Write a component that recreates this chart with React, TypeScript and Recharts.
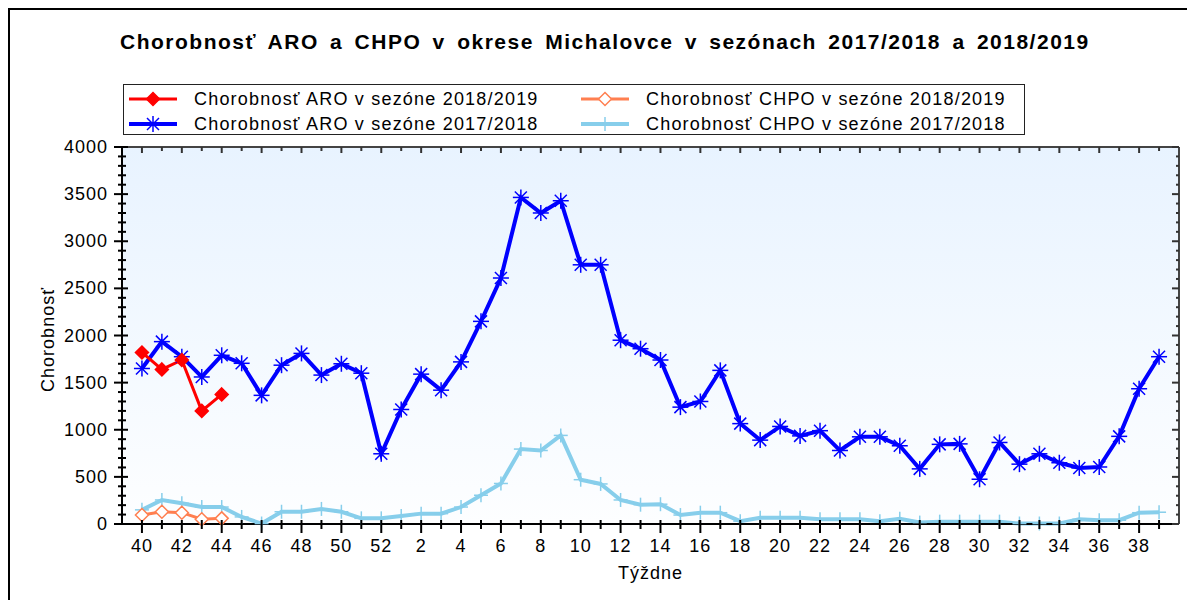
import React from "react";
import { LineChart, Line, XAxis, YAxis, CartesianGrid, Legend, Label } from "recharts";

// calendar weeks of the season, 40..52 then 1..39
const weeks = [
  40, 41, 42, 43, 44, 45, 46, 47, 48, 49, 50, 51, 52,
  1, 2, 3, 4, 5, 6, 7, 8, 9, 10, 11, 12, 13, 14, 15, 16, 17, 18, 19, 20,
  21, 22, 23, 24, 25, 26, 27, 28, 29, 30, 31, 32, 33, 34, 35, 36, 37, 38, 39,
];

// season 2018/2019 (only first weeks reported)
const aro1819 = [1820, 1640, 1740, 1200, 1375];
const chpo1819 = [95, 130, 120, 50, 60];

// season 2017/2018
const aro1718 = [
  1650, 1935, 1775, 1560, 1790, 1705, 1365, 1685, 1810, 1580, 1700, 1600, 745,
  1215, 1590, 1420, 1720, 2150, 2610, 3465, 3300, 3430, 2750, 2750, 1950, 1860,
  1740, 1240, 1300, 1630, 1065, 890, 1035, 935, 990, 780, 925, 925, 830, 585,
  845, 850, 475, 865, 635, 745, 650, 595, 605, 930, 1435, 1775,
];
const chpo1718 = [
  150, 255, 220, 180, 180, 75, 5, 130, 130, 160, 130, 60, 60,
  85, 110, 110, 180, 305, 430, 795, 780, 940, 470, 425, 255, 205,
  210, 95, 120, 120, 30, 65, 65, 65, 50, 50, 50, 30, 55, 15,
  25, 25, 25, 25, 5, 5, 5, 50, 40, 40, 120, 125,
];

const yLabels = [0, 500, 1000, 1500, 2000, 2500, 3000, 3500, 4000];
const yMinorStep = 100;

const rows = weeks.map((w, i) => ({
  idx: i,
  week: w,
  aro1718: aro1718[i],
  chpo1718: chpo1718[i],
  aro1819: i < aro1819.length ? aro1819[i] : null,
  chpo1819: i < chpo1819.length ? chpo1819[i] : null,
}));

const xTicks = weeks.map((_, i) => i);
const yTicks = Array.from({ length: yLabels[yLabels.length - 1] / yMinorStep + 1 }, (_, i) => i * yMinorStep);

const FONT = "'Liberation Sans', Arial, sans-serif";
const W = 1187;
const H = 592;

const BLUE = "#0000ff";
const RED = "#ff0000";
const CORAL = "#ff7f50";
const SKY = "#87ceeb";

function Asterisk({ cx, cy }: any) {
  if (cx == null || cy == null) return null;
  const r = 8;
  const d = 6;
  return (
    <g stroke={BLUE} strokeWidth={1.5}>
      <line x1={cx - r} y1={cy} x2={cx + r} y2={cy} />
      <line x1={cx} y1={cy - r} x2={cx} y2={cy + r} />
      <line x1={cx - d} y1={cy - d} x2={cx + d} y2={cy + d} />
      <line x1={cx - d} y1={cy + d} x2={cx + d} y2={cy - d} />
    </g>
  );
}

function Plus({ cx, cy }: any) {
  if (cx == null || cy == null) return null;
  const r = 7;
  return (
    <g stroke={SKY} strokeWidth={1.5}>
      <line x1={cx - r} y1={cy} x2={cx + r} y2={cy} />
      <line x1={cx} y1={cy - r} x2={cx} y2={cy + r} />
    </g>
  );
}

function Diamond({ cx, cy, color, open }: any) {
  if (cx == null || cy == null) return null;
  const r = 6.5;
  return (
    <path
      d={`M${cx},${cy - r}L${cx + r},${cy}L${cx},${cy + r}L${cx - r},${cy}Z`}
      fill={open ? "#fff" : color}
      stroke={color}
      strokeWidth={1.5}
    />
  );
}

function BottomTick({ x, y, payload }: any) {
  const major = payload.value % 2 === 0;
  return (
    <g>
      <line x1={x} x2={x} y1={y - 4} y2={y + (major ? 9 : 5)} stroke="#000" strokeWidth={2} />
      {major && (
        <text x={x} y={y + 28} textAnchor="middle" fontSize={18} letterSpacing={1} fontFamily={FONT} fill="#000">
          {weeks[payload.value]}
        </text>
      )}
    </g>
  );
}

function TopTick({ x, y, payload }: any) {
  const major = payload.value % 2 === 0;
  return <line x1={x} x2={x} y1={y} y2={y + (major ? 6 : 4)} stroke="#333" strokeWidth={2} />;
}

function LeftTick({ x, y, payload }: any) {
  const major = payload.value % 500 === 0;
  return (
    <g>
      <line x1={x - (major ? 8 : 4)} x2={x + (major ? 6 : 4)} y1={y} y2={y} stroke="#000" strokeWidth={2} />
      {major && (
        <text x={x - 14} y={y + 6} textAnchor="end" fontSize={18} letterSpacing={1} fontFamily={FONT} fill="#000">
          {payload.value}
        </text>
      )}
    </g>
  );
}

function RightTick({ x, y, payload }: any) {
  const major = payload.value % 500 === 0;
  return <line x1={x - (major ? 7 : 3)} x2={x} y1={y} y2={y} stroke="#333" strokeWidth={2} />;
}

const series = [
  { key: "aro1819", name: "Chorobnosť ARO v sezóne 2018/2019", color: RED, width: 3 },
  { key: "chpo1819", name: "Chorobnosť CHPO v sezóne 2018/2019", color: CORAL, width: 3 },
  { key: "aro1718", name: "Chorobnosť ARO v sezóne 2017/2018", color: BLUE, width: 4 },
  { key: "chpo1718", name: "Chorobnosť CHPO v sezóne 2017/2018", color: SKY, width: 4 },
];

function LegendMarker({ k, color }: { k: string; color: string }) {
  const cx = 24;
  const cy = 8;
  let mark: React.ReactNode = null;
  if (k === "aro1819") mark = <Diamond cx={cx} cy={cy} color={color} />;
  if (k === "chpo1819") mark = <Diamond cx={cx} cy={cy} color={color} open />;
  if (k === "aro1718") mark = <Asterisk cx={cx} cy={cy} />;
  if (k === "chpo1718") mark = <Plus cx={cx} cy={cy} />;
  const w = series.find((s) => s.key === k)?.width ?? 3;
  return (
    <svg width={48} height={16} style={{ position: "absolute", left: 0, top: -8, overflow: "visible" }}>
      <line x1={0} x2={48} y1={cy} y2={cy} stroke={color} strokeWidth={w} />
      {mark}
    </svg>
  );
}

function LegendBox() {
  const cols = [5, 457];
  const rowsY = [14, 39];
  return (
    <div
      style={{
        position: "relative",
        width: 902,
        height: 51,
        border: "1.5px solid #222",
        boxSizing: "border-box",
        background: "#fff",
        fontFamily: FONT,
        fontSize: 18,
        letterSpacing: 1.2,
        color: "#000",
      }}
    >
      {series.map((s, i) => (
        <div key={s.key} style={{ position: "absolute", left: cols[i % 2], top: rowsY[Math.floor(i / 2)] }}>
          <LegendMarker k={s.key} color={s.color} />
          <span style={{ position: "absolute", left: 65, top: -11, whiteSpace: "nowrap", lineHeight: "22px" }}>
            {s.name}
          </span>
        </div>
      ))}
    </div>
  );
}

export default function App() {
  return (
    <div style={{ position: "relative", width: W, height: H, background: "#fff" }}>
      <LineChart width={W} height={H} data={rows} margin={{ top: 138, right: 15, bottom: 75, left: 113 }}>
        <defs>
          <linearGradient id="plotBg" x1="0" y1="0" x2="0" y2="1">
            <stop offset="0%" stopColor="#e8f3ff" />
            <stop offset="100%" stopColor="#fdfeff" />
          </linearGradient>
        </defs>
        <CartesianGrid horizontal={false} vertical={false} fill="url(#plotBg)" />
        <XAxis
          type="number"
          dataKey="idx"
          domain={[-1, 52]}
          ticks={xTicks}
          interval={0}
          height={1}
          tickSize={0}
          tickMargin={0}
          tickLine={false}
          axisLine={{ stroke: "#000", strokeWidth: 2 }}
          tick={<BottomTick />}
        >
          <Label
            content={(p: any) => (
              <text
                x={p.viewBox.x + p.viewBox.width / 2}
                y={p.viewBox.y + 55}
                textAnchor="middle"
                fontSize={18}
                letterSpacing={1}
                fontFamily={FONT}
                fill="#000"
              >
                Týždne
              </text>
            )}
          />
        </XAxis>
        <XAxis
          xAxisId="top"
          orientation="top"
          type="number"
          dataKey="idx"
          domain={[-1, 52]}
          ticks={xTicks}
          interval={0}
          height={1}
          tickSize={0}
          tickMargin={0}
          tickLine={false}
          axisLine={{ stroke: "#444", strokeWidth: 2 }}
          tick={<TopTick />}
        />
        <YAxis
          type="number"
          domain={[0, 4000]}
          ticks={yTicks}
          interval={0}
          width={1}
          tickSize={0}
          tickMargin={0}
          tickLine={false}
          axisLine={{ stroke: "#000", strokeWidth: 2 }}
          tick={<LeftTick />}
        >
          <Label
            content={(p: any) => {
              const cx = p.viewBox.x + p.viewBox.width - 68;
              const cy = p.viewBox.y + p.viewBox.height / 2 + 4;
              return (
                <text
                  x={cx}
                  y={cy}
                  transform={`rotate(-90 ${cx} ${cy})`}
                  textAnchor="middle"
                  fontSize={18}
                  letterSpacing={1}
                  fontFamily={FONT}
                  fill="#000"
                >
                  Chorobnosť
                </text>
              );
            }}
          />
        </YAxis>
        <YAxis
          yAxisId="right"
          orientation="right"
          type="number"
          dataKey="aro1718"
          domain={[0, 4000]}
          ticks={yTicks}
          interval={0}
          width={1}
          tickSize={0}
          tickMargin={0}
          tickLine={false}
          axisLine={{ stroke: "#444", strokeWidth: 2 }}
          tick={<RightTick />}
        />
        <Legend
          layout="vertical"
          align="center"
          verticalAlign="middle"
          wrapperStyle={{ top: 76, left: 115, width: 902, height: 51 }}
          content={() => <LegendBox />}
        />
        <Line
          dataKey="chpo1718"
          name={series[3].name}
          stroke={SKY}
          strokeWidth={4}
          dot={(p: any) => <Plus key={p.index} {...p} />}
          isAnimationActive={false}
        />
        <Line
          dataKey="aro1718"
          name={series[2].name}
          stroke={BLUE}
          strokeWidth={4}
          dot={(p: any) => <Asterisk key={p.index} {...p} />}
          isAnimationActive={false}
        />
        <Line
          dataKey="chpo1819"
          name={series[1].name}
          stroke={CORAL}
          strokeWidth={3}
          dot={(p: any) => <Diamond key={p.index} {...p} color={CORAL} open />}
          isAnimationActive={false}
        />
        <Line
          dataKey="aro1819"
          name={series[0].name}
          stroke={RED}
          strokeWidth={3}
          dot={(p: any) => <Diamond key={p.index} {...p} color={RED} />}
          isAnimationActive={false}
        />
      </LineChart>
      <div
        style={{
          position: "absolute",
          left: 112,
          top: 22,
          fontFamily: FONT,
          fontWeight: "bold",
          fontSize: 21,
          letterSpacing: 1.5,
          wordSpacing: 4,
          whiteSpace: "pre",
          color: "#000",
        }}
      >
        Chorobnosť ARO a CHPO v okrese Michalovce v sezónach 2017/2018 a 2018/2019
      </div>
      <div
        style={{
          position: "absolute",
          left: 0,
          top: 0,
          width: W,
          height: H,
          borderTop: "2px solid #000",
          borderLeft: "2px solid #000",
          boxSizing: "border-box",
          pointerEvents: "none",
        }}
      />
    </div>
  );
}
